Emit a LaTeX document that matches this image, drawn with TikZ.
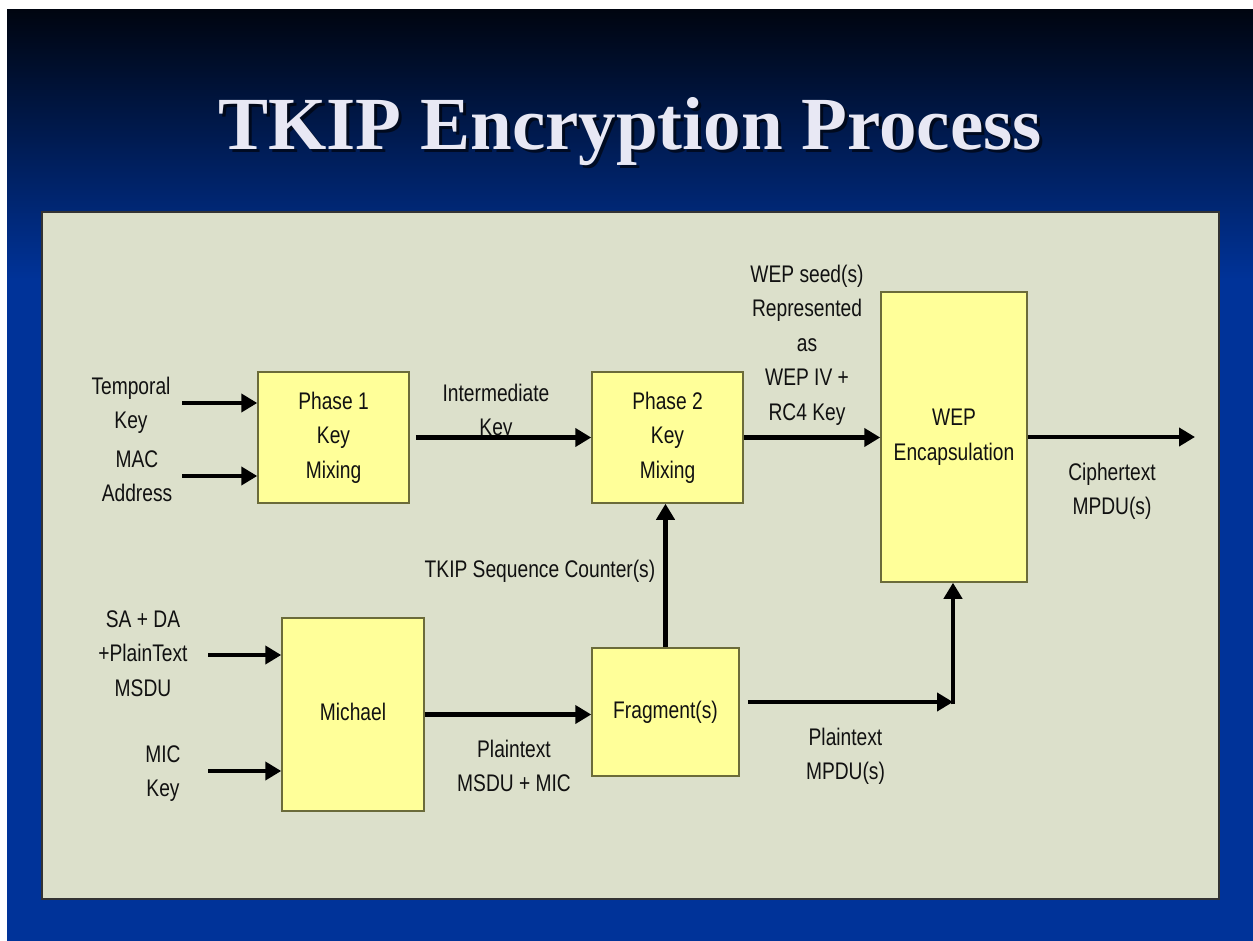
\documentclass[tikz,border=0pt]{standalone}
\usepackage{fontspec}
\setmainfont{Liberation Sans}
\newfontfamily\narrowfont[FakeStretch=0.8]{Liberation Sans}
\newfontfamily\titlefont{Liberation Serif}
\usetikzlibrary{arrows.meta}
\definecolor{slidebg}{HTML}{003399}
\definecolor{slidetop}{HTML}{000510}
\definecolor{panelbg}{HTML}{DCE0CB}
\definecolor{boxfill}{HTML}{FFFF99}
\definecolor{boxline}{HTML}{6B6B3A}
\definecolor{inkc}{HTML}{111111}
\definecolor{titlec}{HTML}{E8E8F4}
\newcommand\sst{\rule[-6pt]{0pt}{24pt}}
\begin{document}
\begin{tikzpicture}[x=1pt,y=-1pt,
  lbl/.style={font=\narrowfont\fontsize{24}{34.5}\selectfont, text=inkc, align=center, inner sep=0pt},
  blk/.style={lbl, draw=boxline, fill=boxfill, line width=1.5pt},
  arr/.style={draw=black, line width=4.5pt, -{Triangle[length=16pt,width=18pt]}},
  ttl/.style={font=\titlefont\bfseries\fontsize{75}{80}\selectfont, anchor=base, inner sep=0pt}
]
\useasboundingbox (0,0) rectangle (1253,941);
% slide background
\fill[white] (0,0) rectangle (1253,941);
\fill[slidebg] (7,10) rectangle (1253,941);
\shade[top color=slidetop, bottom color=slidebg] (7,10) rectangle (1253,280);
% title (with drop shadow)
\node[ttl, text=black, opacity=0.6] (titleshadow) at (633,153) {TKIP Encryption Process};
\node[ttl, text=titlec] (title) at (630,150) {TKIP Encryption Process};
% panel
\draw[draw=black!80, line width=1.5pt, fill=panelbg] (42,212) rectangle (1219,899);
% boxes
\node[blk, minimum width=151pt, minimum height=131pt] (p1) at (333.5,437.5) {\sst Phase 1\\\sst Key\\\sst Mixing};
\node[blk, minimum width=151pt, minimum height=131pt] (p2) at (667.5,437.5) {\sst Phase 2\\\sst Key\\\sst Mixing};
\node[blk, minimum width=146pt, minimum height=290pt] (wep) at (954,437) {\sst WEP\\\sst Encapsulation};
\node[blk, minimum width=142pt, minimum height=193pt] (mich) at (353,714.5) {\sst Michael};
\node[blk, minimum width=147pt, minimum height=128pt] (frag) at (665.5,712) {\sst Fragment(s)};
% labels
\node[lbl] (tk) at (131,405.25) {\sst Temporal\\\sst Key};
\node[lbl] (mac) at (137,478.25) {\sst MAC\\\sst Address};
\node[lbl] (ik) at (496,412.25) {\sst Intermediate\\\sst Key};
\node[lbl] (seed) at (807,345) {\sst WEP seed(s)\\\sst Represented\\\sst as\\\sst WEP IV +\\\sst RC4 Key};
\node[lbl] (ct) at (1112,491.25) {\sst Ciphertext\\\sst MPDU(s)};
\node[lbl, anchor=base] (tsc) at (540,577) {TKIP Sequence Counter(s)};
\node[lbl] (sada) at (143,655.5) {\sst SA + DA\\\sst +PlainText\\\sst MSDU};
\node[lbl] (mic) at (163,773.25) {\sst MIC\\\sst Key};
\node[lbl] (pmsdu) at (514,768.25) {\sst Plaintext\\\sst MSDU + MIC};
\node[lbl] (pmpdu) at (845.5,756.25) {\sst Plaintext\\\sst MPDU(s)};
% free ends
\coordinate (tkin) at (182,403);
\coordinate (macin) at (182,476);
\coordinate (sain) at (208,655);
\coordinate (micin) at (208,771);
\coordinate (outc) at (1195,437);
\coordinate (corner) at (953,702);
% connectors
\draw[arr] (tkin) -- (tkin -| p1.west);
\draw[arr] (macin) -- (macin -| p1.west);
\draw[arr, shorten <=6pt] (p1.east) -- (p2.west);
\draw[arr] (p2.east) -- (p2.east -| wep.west);
\draw[arr] (wep.east) -- (outc);
\draw[arr] (frag.north) -- (frag.north |- p2.south);
\draw[arr] (sain) -- (sain -| mich.west);
\draw[arr] (micin) -- (micin -| mich.west);
\draw[arr] (mich.east) -- (mich.east -| frag.west);
\draw[arr, shorten <=8pt] (corner -| frag.east) -- (corner);
\draw[arr, shorten <=-2.25pt] (corner) -- (corner |- wep.south);
\end{tikzpicture}
\end{document}
